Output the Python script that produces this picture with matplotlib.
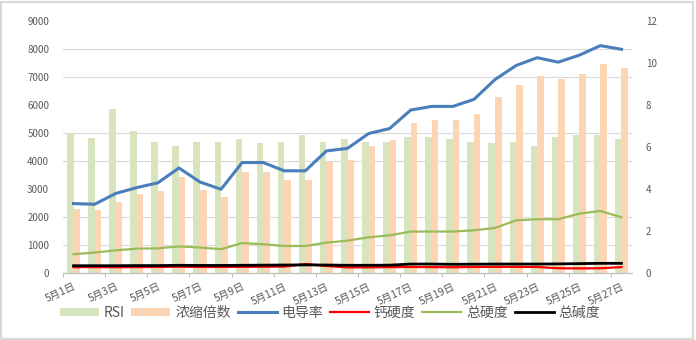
import matplotlib
matplotlib.use('Agg')
import matplotlib.pyplot as plt
import numpy as np
from matplotlib.patches import Rectangle

plt.rcParams['font.family'] = ['Noto Sans CJK SC', 'DejaVu Sans']

# daily water quality records, 5月1日 - 5月27日
days = [f'5月{d}日' for d in range(1, 28)]
rsi = [6.65, 6.45, 7.79, 6.76, 6.26, 6.06, 6.26, 6.26, 6.36, 6.17, 6.26, 6.57, 6.26, 6.36,
       6.26, 6.26, 6.47, 6.47, 6.36, 6.26, 6.17, 6.26, 6.06, 6.47, 6.57, 6.57, 6.36]
ratio = [3.04, 2.99, 3.37, 3.74, 3.90, 4.56, 3.96, 3.64, 4.82, 4.79, 4.45, 4.45, 5.29, 5.37,
         6.07, 6.31, 7.12, 7.28, 7.28, 7.58, 8.36, 8.95, 9.36, 9.24, 9.48, 9.95, 9.76]
cond = [2480, 2455, 2840, 3050, 3220, 3750, 3250, 2990, 3945, 3945, 3650, 3650, 4360, 4450,
        4980, 5160, 5820, 5950, 5950, 6200, 6910, 7410, 7690, 7530, 7780, 8120, 7990]
ca_hard = [210, 210, 205, 210, 215, 225, 215, 215, 220, 225, 230, 320, 250, 200,
           200, 210, 215, 210, 205, 215, 220, 220, 215, 170, 165, 170, 210]
tot_hard = [670, 730, 810, 870, 880, 950, 910, 850, 1070, 1025, 965, 965, 1085, 1155,
            1275, 1345, 1480, 1480, 1480, 1525, 1610, 1880, 1920, 1920, 2120, 2215, 1990]
alk = [260, 260, 260, 265, 265, 275, 270, 270, 275, 280, 285, 290, 285, 275,
       275, 280, 320, 320, 310, 315, 320, 320, 320, 325, 335, 345, 345]

grey = '#595959'
x = np.arange(len(days))

fig = plt.figure(figsize=(6.96, 3.4), dpi=100)
fig.patches.append(Rectangle((0.002, 0.004), 0.994, 0.99, transform=fig.transFigure,
                             fill=False, edgecolor='#D9D9D9', linewidth=1.5))

ax = fig.add_axes([63 / 696, 1 - 273 / 340, 569 / 696, 252 / 340])
ax2 = ax.twinx()

# bars on the secondary scale, lines on the primary scale drawn above them
w = 0.31
b1 = ax2.bar(x - w / 2, rsi, w, color='#D7E4BD', label='RSI')
b2 = ax2.bar(x + w / 2, ratio, w, color='#FCD5B5', label='浓缩倍数')
ax2.set_ylim(0, 12)
ax2.set_yticks(range(0, 13, 2))
ax2.yaxis.set_minor_locator(plt.FixedLocator(np.arange(0, 9001, 1000) * 12 / 9000))
ax2.grid(which='minor', axis='y', color='#D9D9D9', linewidth=0.8)
ax2.set_axisbelow(True)
ax2.tick_params(axis='y', which='both', length=0, labelsize=7, labelcolor=grey, pad=10)

ax.set_zorder(ax2.get_zorder() + 1)
ax.patch.set_visible(False)
l1, = ax.plot(x, cond, color='#4A7EBB', linewidth=2.2, label='电导率')
l3, = ax.plot(x, tot_hard, color='#9BBB59', linewidth=1.6, label='总硬度')
l4, = ax.plot(x, alk, color='#000000', linewidth=2.0, label='总碱度')
l2, = ax.plot(x, ca_hard, color='#FF0000', linewidth=1.6, label='钙硬度', zorder=1.9)
ax.set_ylim(0, 9000)
ax.set_yticks(range(0, 9001, 1000))
ax.tick_params(axis='y', length=0, labelsize=7, labelcolor=grey, pad=10)

ax.set_xlim(-0.5, len(days) - 0.5)
ax.set_xticks(x[::2])
ax.set_xticklabels(days[::2], rotation=25, ha='right', rotation_mode='anchor')
ax.set_xticks(np.arange(-0.5, len(days) - 1, 2), minor=True)
ax.tick_params(axis='x', which='major', length=0, labelsize=7.5, labelcolor=grey, pad=6)
ax.tick_params(axis='x', which='minor', length=3, color='#BFBFBF', width=0.8)

for a in (ax, ax2):
    for s in ('top', 'left', 'right'):
        a.spines[s].set_visible(False)
    a.spines['bottom'].set_color('#BFBFBF')

fig.legend([b1, b2, l1, l2, l3, l4], ['RSI', '浓缩倍数', '电导率', '钙硬度', '总硬度', '总碱度'],
           loc='center', bbox_to_anchor=(0.474, 0.08), ncol=6, frameon=False,
           fontsize=10, labelcolor=grey, handlelength=2.8, handleheight=0.45,
           handletextpad=0.35, columnspacing=0.5)

fig.savefig('out.png', dpi=100)
